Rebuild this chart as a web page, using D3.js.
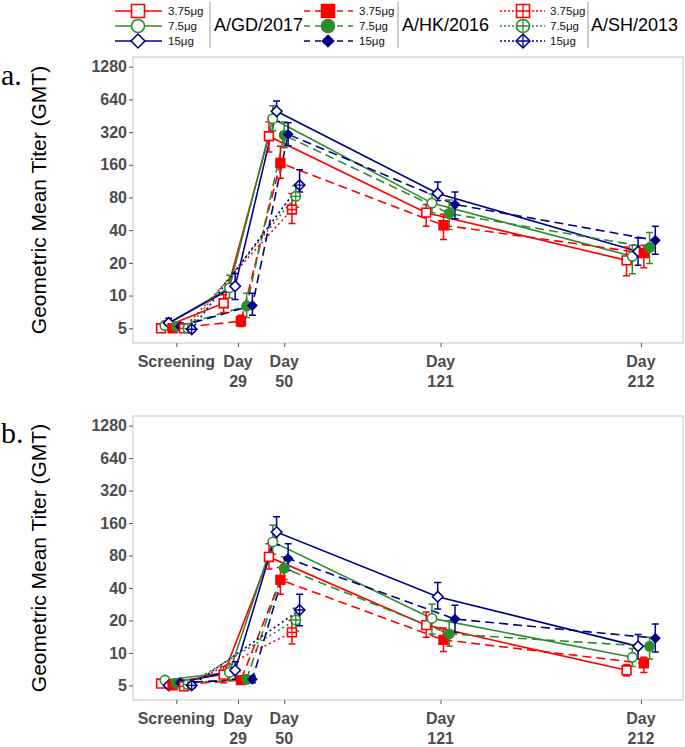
<!DOCTYPE html>
<html>
<head>
<meta charset="utf-8">
<script src="https://cdn.jsdelivr.net/npm/d3@7"></script>
<style>
  html, body { margin: 0; padding: 0; background: #fff; }
  svg { display: block; }
</style>
</head>
<body>
<svg id="chart" width="685" height="747"></svg>
<script>
// ---------------- DATA ----------------
const days = [1, 29, 50, 121, 212];
const dayLabels = [["Screening"], ["Day", "29"], ["Day", "50"], ["Day", "121"], ["Day", "212"]];
const strains = ["A/GD/2017", "A/HK/2016", "A/SH/2013"];
const doses = ["3.75μg", "7.5μg", "15μg"];
const yTicks = [5, 10, 20, 40, 80, 160, 320, 640, 1280];
const yTitle = "Geometric Mean Titer (GMT)";

// Panel a  (GMT, lower, upper) for each strain × dose
const a_GD_375 = [5.0, 8.5, 293, 58, 21.1];
const a_GD_375_lo = [4.7, 7.0, 210, 43.5, 15.2];
const a_GD_375_hi = [5.4, 10.2, 397, 69, 28];
const a_GD_75 = [5.3, 11.8, 425, 71, 23];
const a_GD_75_lo = [4.9, 9.5, 330, 58, 15.9];
const a_GD_75_hi = [5.8, 15.4, 560, 86, 29];
const a_GD_15 = [5.6, 12.2, 498, 87, 25.5];
const a_GD_15_lo = [5.1, 9.2, 400, 75, 19];
const a_GD_15_hi = [6.2, 16, 620, 111, 34];
const a_HK_375 = [5.0, 5.8, 166, 44.4, 24.6];
const a_HK_375_lo = [4.8, 5.2, 120, 32.8, 18];
const a_HK_375_hi = [5.3, 6.6, 237, 56, 29];
const a_HK_75 = [5.2, 8.0, 300, 57, 27.7];
const a_HK_75_lo = [4.9, 6.3, 230, 40.5, 19.7];
const a_HK_75_hi = [5.6, 10.5, 397, 76, 38];
const a_HK_15 = [5.2, 8.1, 305, 69, 32.3];
const a_HK_15_lo = [4.8, 6.6, 240, 51, 24];
const a_HK_15_hi = [5.6, 10.5, 390, 90, 43.5];
const a_SH_375 = [5.0, null, 62, null, null];
const a_SH_375_lo = [4.7, null, 46, null, null];
const a_SH_375_hi = [5.3, null, 87, null, null];
const a_SH_75 = [5.0, null, 82, null, null];
const a_SH_75_lo = [4.7, null, 65, null, null];
const a_SH_75_hi = [5.3, null, 102, null, null];
const a_SH_15 = [4.9, null, 104, null, null];
const a_SH_15_lo = [4.6, null, 90, null, null];
const a_SH_15_hi = [5.2, null, 144, null, null];

// Panel b
const b_GD_375 = [5.2, 6.3, 77.6, 18.1, 6.9];
const b_GD_375_lo = [4.8, 5.3, 60, 14, 6.1];
const b_GD_375_hi = [5.6, 7.5, 103, 24, 7.8];
const b_GD_75 = [5.6, 6.6, 107, 20.9, 9.1];
const b_GD_75_lo = [5.2, 5.6, 82, 15, 7.5];
const b_GD_75_hi = [6.0, 7.8, 153, 28.3, 11];
const b_GD_15 = [5.0, 6.9, 132, 33.2, 11.5];
const b_GD_15_lo = [4.7, 5.7, 100, 25.5, 8.8];
const b_GD_15_hi = [5.4, 8.3, 183, 45, 14.8];
const b_HK_375 = [5.0, 5.6, 47.6, 13.2, 8.0];
const b_HK_375_lo = [4.7, 5.2, 35, 10.3, 6.6];
const b_HK_375_hi = [5.3, 6.0, 62, 17, 9.1];
const b_HK_75 = [5.2, 5.7, 61, 15, 11.5];
const b_HK_75_lo = [4.9, 5.3, 48, 11.5, 8.8];
const b_HK_75_hi = [5.6, 6.1, 78, 19.9, 14];
const b_HK_15 = [5.3, 5.7, 75, 20.6, 13.7];
const b_HK_15_lo = [5.0, 5.3, 58, 15.5, 10.2];
const b_HK_15_hi = [5.6, 6.1, 103, 27.7, 18.5];
const b_SH_375 = [4.9, null, 15.5, null, null];
const b_SH_375_lo = [4.6, null, 12.1, null, null];
const b_SH_375_hi = [5.2, null, 20, null, null];
const b_SH_75 = [5.1, null, 20.2, null, null];
const b_SH_75_lo = [4.8, null, 16, null, null];
const b_SH_75_hi = [5.4, null, 26, null, null];
const b_SH_15 = [5.0, null, 25, null, null];
const b_SH_15_lo = [4.7, null, 17.9, null, null];
const b_SH_15_hi = [5.3, null, 35, null, null];

// ---------------- STYLE ----------------
const SANS = "'Liberation Sans', Arial, sans-serif";
const SERIF = "'Liberation Serif', 'Times New Roman', serif";
const doseColors = ["#FF0000", "#2E8B2E", "#00008B"];
const strainDash = ["none", "9,5", "2,3"];
const strainFill = ["open", "filled", "cross"];
const doseShape = ["square", "circle", "diamond"];

function mkSeries(p) {
  const raw = p === "a" ? [
    [a_GD_375, a_GD_375_lo, a_GD_375_hi], [a_GD_75, a_GD_75_lo, a_GD_75_hi], [a_GD_15, a_GD_15_lo, a_GD_15_hi],
    [a_HK_375, a_HK_375_lo, a_HK_375_hi], [a_HK_75, a_HK_75_lo, a_HK_75_hi], [a_HK_15, a_HK_15_lo, a_HK_15_hi],
    [a_SH_375, a_SH_375_lo, a_SH_375_hi], [a_SH_75, a_SH_75_lo, a_SH_75_hi], [a_SH_15, a_SH_15_lo, a_SH_15_hi]
  ] : [
    [b_GD_375, b_GD_375_lo, b_GD_375_hi], [b_GD_75, b_GD_75_lo, b_GD_75_hi], [b_GD_15, b_GD_15_lo, b_GD_15_hi],
    [b_HK_375, b_HK_375_lo, b_HK_375_hi], [b_HK_75, b_HK_75_lo, b_HK_75_hi], [b_HK_15, b_HK_15_lo, b_HK_15_hi],
    [b_SH_375, b_SH_375_lo, b_SH_375_hi], [b_SH_75, b_SH_75_lo, b_SH_75_hi], [b_SH_15, b_SH_15_lo, b_SH_15_hi]
  ];
  return raw.map((r, i) => ({
    strain: Math.floor(i / 3), dose: i % 3, idx: i,
    pts: days.map((d, j) => ({ day: d, j, v: r[0][j], lo: r[1][j], hi: r[2][j] })).filter(q => q.v != null)
  }));
}

const svg = d3.select("#chart");

function markerPath(shape, s) {
  if (shape === "square") return `M${-s},${-s}H${s}V${s}H${-s}Z`;
  if (shape === "circle") return d3.arc()({ innerRadius: 0, outerRadius: s, startAngle: 0, endAngle: 2 * Math.PI });
  return `M0,${-s * 1.2}L${s * 1.2},0L0,${s * 1.2}L${-s * 1.2},0Z`;
}

function drawMarker(g, x, y, strain, dose, half) {
  const c = doseColors[dose];
  const shape = doseShape[dose];
  const mg = g.append("g").attr("transform", `translate(${x},${y})`);
  const fill = strainFill[strain];
  let s = half;
  if (fill === "filled" && shape === "diamond") s = half * 0.82;
  mg.append("path").attr("d", markerPath(shape, s))
    .attr("fill", fill === "filled" ? c : "#fff")
    .attr("stroke", c).attr("stroke-width", 1.6);
  if (fill === "cross") {
    const e = shape === "diamond" ? s * 1.2 : s;
    mg.append("path").attr("d", `M${-e},0H${e}M0,${-e}V${e}`)
      .attr("stroke", c).attr("stroke-width", 1.3).attr("fill", "none");
  }
}

const xLeft = 133, xRight = 683;
const x = d3.scaleLinear().domain([-18.7, 231.1]).range([xLeft, xRight]);
const dodgeW = 34.5;

function drawPanel(p, top, bottom, letter, letterY) {
  const series = mkSeries(p);
  const y = d3.scaleLog().base(2).domain([3.66, 1572]).range([bottom, top]);
  const g = svg.append("g");

  const present = days.map((d, j) => series.filter(s => s.pts.some(q => q.j === j)).map(s => s.idx));
  const px = (s, q) => {
    const list = present[q.j];
    const n = list.length;
    const k = list.indexOf(s.idx);
    return x(q.day) + (k - (n - 1) / 2) * dodgeW / n;
  };

  g.append("rect").attr("x", xLeft).attr("y", top).attr("width", xRight - xLeft).attr("height", bottom - top)
    .attr("fill", "none").attr("stroke", "#cfcfcf").attr("stroke-width", 1.2);

  const ya = g.append("g").attr("transform", `translate(${xLeft},0)`)
    .call(d3.axisLeft(y).tickValues(yTicks).tickFormat(d3.format("d")).tickSize(4).tickPadding(2));
  ya.select(".domain").remove();
  ya.selectAll(".tick line").attr("stroke", "#555");
  ya.selectAll(".tick text").attr("fill", "#4D4D4D").attr("font-size", 16).attr("font-weight", "bold")
    .attr("font-family", SANS);

  const xa = g.append("g").attr("transform", `translate(0,${bottom})`)
    .call(d3.axisBottom(x).tickValues(days).tickFormat("").tickSize(4));
  xa.select(".domain").remove();
  xa.selectAll(".tick line").attr("stroke", "#555");
  days.forEach((d, j) => {
    const t = g.append("text").attr("x", x(d)).attr("y", bottom + 24)
      .attr("text-anchor", "middle").attr("fill", "#4D4D4D").attr("font-size", 16).attr("font-weight", "bold")
      .attr("font-family", SANS);
    dayLabels[j].forEach((l, li) => {
      t.append("tspan").attr("x", x(d)).attr("dy", li === 0 ? 0 : 20).text(l);
    });
  });

  g.append("text").attr("transform", `translate(46,${(top + bottom) / 2}) rotate(-90)`)
    .attr("text-anchor", "middle").attr("font-size", 21).attr("fill", "#000")
    .attr("font-family", SANS).text(yTitle);

  g.append("text").attr("x", 1).attr("y", letterY).attr("font-family", SERIF)
    .attr("font-size", 30).attr("fill", "#000").text(letter);

  const line = d3.line();
  series.forEach(s => {
    g.append("path").attr("d", line(s.pts.map(q => [px(s, q), y(q.v)])))
      .attr("fill", "none").attr("stroke", doseColors[s.dose]).attr("stroke-width", 1.6)
      .attr("stroke-dasharray", strainDash[s.strain] === "none" ? null : strainDash[s.strain]);
  });
  series.forEach(s => {
    s.pts.forEach(q => {
      const cx = px(s, q);
      const c = doseColors[s.dose];
      g.append("path").attr("d", `M${cx},${y(q.lo)}V${y(q.hi)}M${cx - 3.5},${y(q.lo)}H${cx + 3.5}M${cx - 3.5},${y(q.hi)}H${cx + 3.5}`)
        .attr("stroke", c).attr("stroke-width", 1.5).attr("fill", "none");
    });
  });
  series.forEach(s => {
    s.pts.forEach(q => {
      drawMarker(g, px(s, q), y(q.v), s.strain, s.dose, s.dose === 1 ? 4.7 : 4.4);
    });
  });
}

drawPanel("a", 57, 343, "a.", 85);
drawPanel("b", 416, 700, "b.", 443);

// ---------------- LEGEND ----------------
const legendGroups = [
  { x0: 115, x1: 162, sx: 138, lx: 168, sep: 210, tx: 214 },
  { x0: 304, x1: 353, sx: 328, lx: 359, sep: 398, tx: 402 },
  { x0: 500, x1: 545, sx: 523, lx: 550, sep: 588, tx: 591 }
];
const rowY = [11, 26, 41];
const legendDash = ["none", "6,5", "2,2"];
const lg = svg.append("g");
strains.forEach((st, si) => {
  const G = legendGroups[si];
  doses.forEach((ds, di) => {
    const c = doseColors[di];
    lg.append("line").attr("x1", G.x0).attr("x2", G.x1).attr("y1", rowY[di]).attr("y2", rowY[di])
      .attr("stroke", c).attr("stroke-width", 1.5)
      .attr("stroke-dasharray", legendDash[si] === "none" ? null : legendDash[si]);
    drawMarker(lg, G.sx, rowY[di], si, di, di === 1 ? 6.5 : (di === 2 ? 5.8 : 6.5));
    lg.append("text").attr("x", G.lx).attr("y", rowY[di] + 4).attr("font-size", 11.5).attr("fill", "#111")
      .attr("font-family", SANS).text(ds);
  });
  lg.append("line").attr("x1", G.sep).attr("x2", G.sep).attr("y1", 2).attr("y2", 48)
    .attr("stroke", "#9a9a9a").attr("stroke-width", 1);
  lg.append("text").attr("x", G.tx).attr("y", 31).attr("font-size", 18).attr("fill", "#000")
    .attr("font-family", SANS).text(st);
});
</script>
</body>
</html>
